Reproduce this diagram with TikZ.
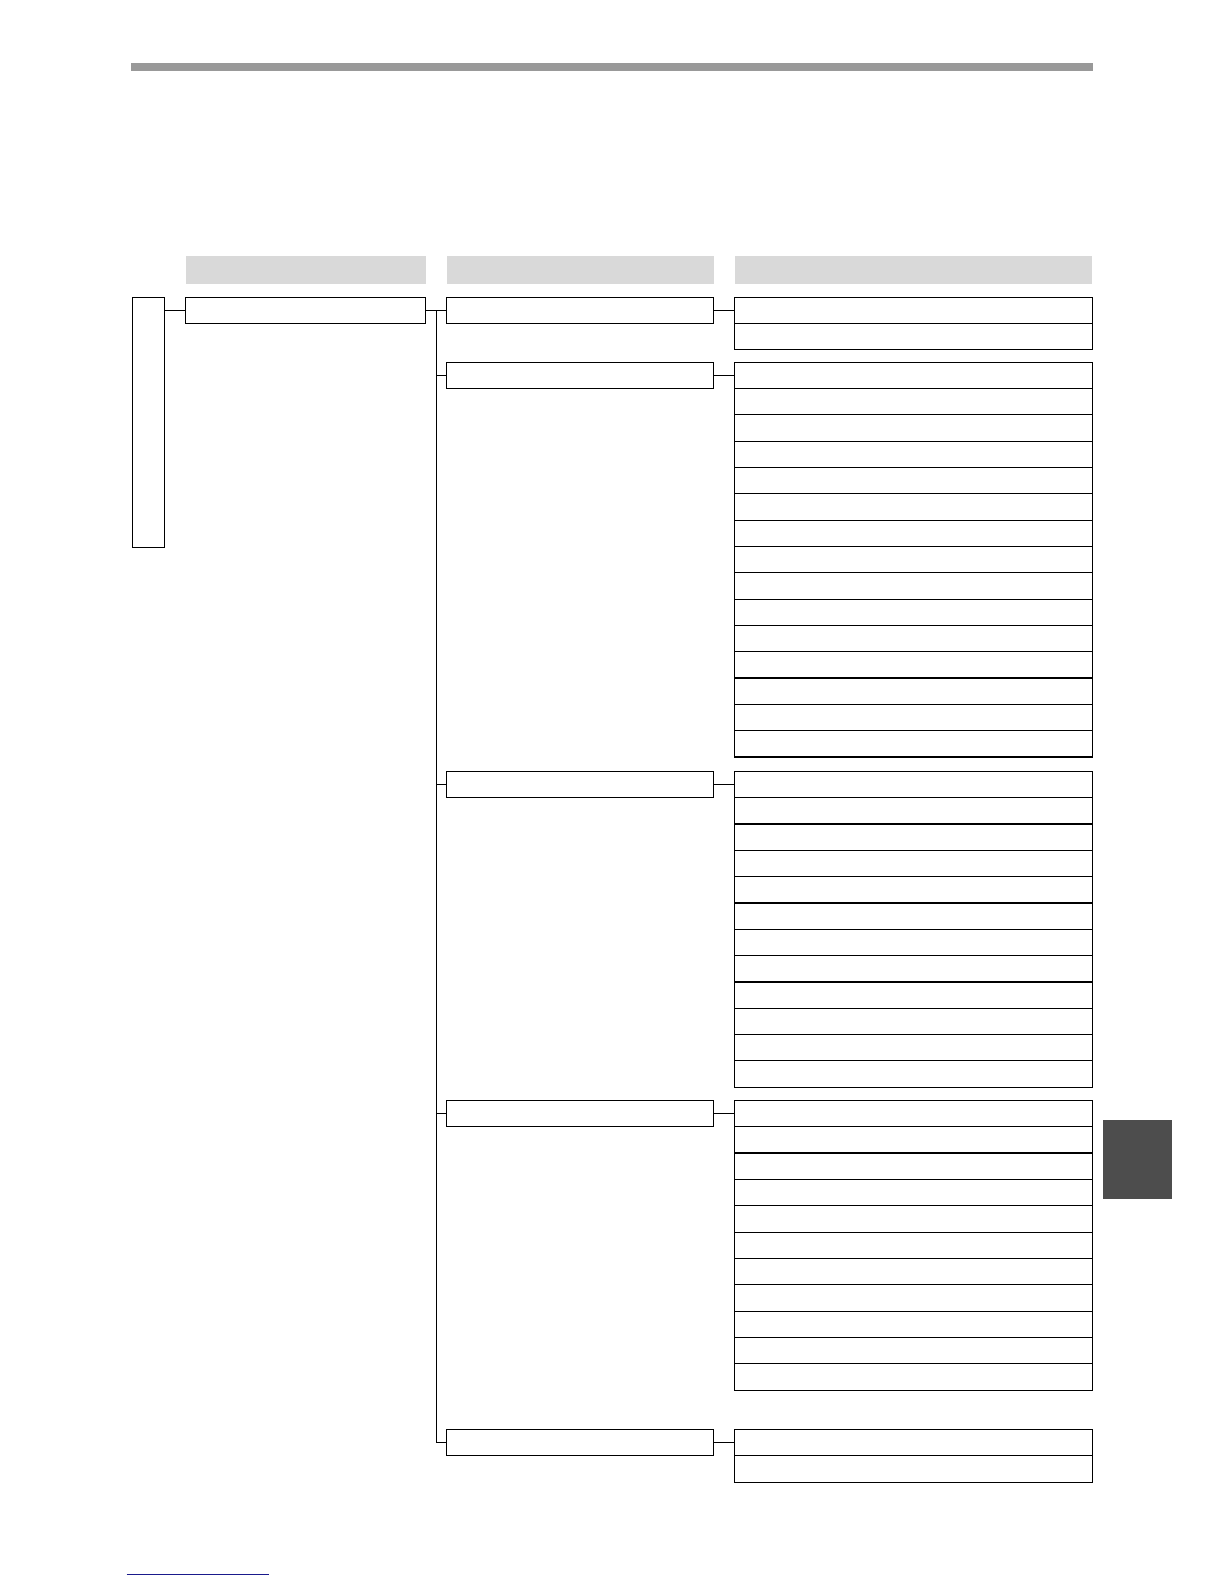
\documentclass[tikz,border=0pt]{standalone}
\definecolor{topbargray}{HTML}{999999}
\definecolor{headgray}{HTML}{D9D9D9}
\definecolor{tabgray}{HTML}{4D4D4D}
\definecolor{linknavy}{HTML}{1A1A8C}
\begin{document}
\begin{tikzpicture}[x=1pt,y=-1pt,
  box/.style={draw, line width=1.1pt, inner sep=0pt, outer sep=0pt, anchor=north west, fill=white},
  head/.style={fill=headgray, inner sep=0pt, outer sep=0pt, anchor=north west, minimum height=28.3pt},
  link/.style={line width=1.1pt}]
\useasboundingbox (0,0) rectangle (1224,1584);
% top bar
\node[fill=topbargray, inner sep=0pt, anchor=north west, minimum width=962pt, minimum height=8pt] (topbar) at (131,63) {};
% column headers
\node[head, minimum width=240pt] (h1) at (186,255.7) {};
\node[head, minimum width=266.7pt] (h2) at (447.3,255.7) {};
\node[head, minimum width=357.3pt] (h3) at (735,255.7) {};
% level 0 and 1
\node[box, minimum width=32.4pt, minimum height=250pt] (L0) at (132.3,297.3) {};
\node[box, minimum width=240.4pt, minimum height=26pt] (L1) at (185.3,297.3) {};
% level 2
\foreach \n/\y in {a/297.3, b/362.3, c/771.3, d/1100.3, e/1429.3}
  \node[box, minimum width=267.4pt, minimum height=26pt] (L2\n) at (446.3,\y) {};
% level 3 groups
\foreach \n/\y/\k/\h in {a/297.3/2/26, b/362.3/15/26.31, c/771.3/12/26.33, d/1100.3/11/26.36, e/1429.3/2/26.5}{
  \foreach \i in {1,...,\k}
    \node[box, minimum width=358pt, minimum height=\h pt] (G\n\i) at (734.3,{\y+(\i-1)*\h}) {};
}
% connectors
\coordinate (tk) at (436.3,0);
\draw[link] (L0.east |- L1.west) -- (L1.west);
\draw[link] (L1.east) -- (L2a.west);
\draw[link] (tk |- L2a.west) -- (tk |- L2e.west);
\foreach \n in {b,c,d,e}
  \draw[link] (tk |- L2\n.west) -- (L2\n.west);
\foreach \n in {a,b,c,d,e}
  \draw[link] (L2\n.east) -- (G\n1.west |- L2\n.east);
% side tab
\node[fill=tabgray, inner sep=0pt, anchor=north west, minimum width=68.7pt, minimum height=78.8pt] (tab) at (1103,1120) {};
% bottom link line
\coordinate (bl1) at (126.7,1574.7);
\coordinate (bl2) at (269,1574.7);
\draw[linknavy, line width=1pt] (bl1) -- (bl2);
\end{tikzpicture}
\end{document}
